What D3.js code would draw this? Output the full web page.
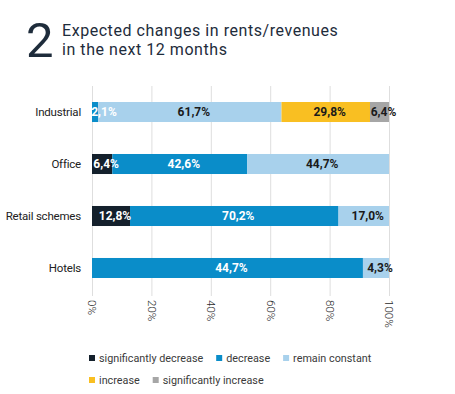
<!DOCTYPE html>
<html>
<head>
<meta charset="utf-8">
<script src="https://cdn.jsdelivr.net/npm/d3@7"></script>
<style>
  body { margin: 0; background: #fff; }
  svg { display: block; font-family: Roboto, "Noto Sans", sans-serif; }
</style>
</head>
<body>
<div id="chart"></div>
<script>
// categories (top to bottom)
const categories = ["Industrial", "Office", "Retail schemes", "Hotels"];

// series values, % of answers (0 = no segment)
const sigDecrease = [0, 6.4, 12.8, 0];
const decrease = [2.1, 42.6, 70.2, 44.7];
const remainConstant = [61.7, 44.7, 17.0, 4.3];
const increase = [29.8, 0, 0, 0];
const sigIncrease = [6.4, 0, 0, 0];

const seriesKeys = ["sigDecrease", "decrease", "remainConstant", "increase", "sigIncrease"];
const seriesNames = ["significantly decrease", "decrease", "remain constant", "increase", "significantly increase"];
const seriesColors = ["#14202c", "#0a8dc9", "#a8d1ec", "#f9bf22", "#a6a6a6"];
const labelColors = ["#fff", "#fff", "#1a1a1a", "#1a1a1a", "#1a1a1a"];

const tickValues = [0, 0.2, 0.4, 0.6, 0.8, 1];
const legendRows = [[0, 1, 2], [3, 4]];

const w = 455, h = 394;

const rows = categories.map((c, i) => ({
  category: c,
  sigDecrease: sigDecrease[i],
  decrease: decrease[i],
  remainConstant: remainConstant[i],
  increase: increase[i],
  sigIncrease: sigIncrease[i]
}));

const svg = d3.select("#chart").append("svg")
  .attr("width", w)
  .attr("height", h);

// title
svg.append("text")
  .attr("x", 26)
  .attr("y", 57)
  .attr("fill", "#1e2c3b")
  .style("font-size", "49px")
  .text("2");

const title = svg.append("text")
  .attr("x", 62)
  .attr("fill", "#1e2c3b")
  .style("font-size", "16px")
  .style("letter-spacing", "0.55px");
title.append("tspan").attr("x", 62).attr("y", 36).text("Expected changes in rents/revenues");
title.append("tspan").attr("x", 62).attr("y", 55).text("in the next 12 months");

const xScale = d3.scaleLinear().domain([0, 1]).range([92, 389]);
const yScale = d3.scaleBand()
  .domain(categories)
  .range([86, 294])
  .paddingInner(0.615)
  .paddingOuter(0.3077);

// grid + rotated tick labels
const xAxis = d3.axisBottom(xScale)
  .tickValues(tickValues)
  .tickSize(-210)
  .tickFormat(d3.format(".0%"));

const gx = svg.append("g")
  .attr("transform", "translate(0," + 296 + ")")
  .call(xAxis);
gx.select(".domain").remove();
gx.selectAll(".tick line").attr("stroke", "#dedede").attr("stroke-width", 1);
gx.selectAll(".tick text")
  .attr("transform", "rotate(90)")
  .attr("x", 4)
  .attr("y", 0)
  .attr("dy", "0.35em")
  .attr("text-anchor", "start")
  .attr("fill", "#2a2a2a")
  .style("font-size", "11.5px")
  .style("font-weight", 300)
  .style("font-family", "Roboto, sans-serif");

// stacked bars (100%)
const stack = d3.stack().keys(seriesKeys).offset(d3.stackOffsetExpand);
const stacked = stack(rows);

const layers = svg.selectAll("g.layer")
  .data(stacked)
  .enter()
  .append("g")
  .attr("class", "layer")
  .attr("fill", (d, i) => seriesColors[i]);

layers.selectAll("rect")
  .data(d => d.filter(p => p.data[d.key] > 0))
  .enter()
  .append("rect")
  .attr("x", d => xScale(d[0]))
  .attr("y", d => yScale(d.data.category))
  .attr("width", d => xScale(d[1]) - xScale(d[0]))
  .attr("height", yScale.bandwidth());

// value labels
const fmt = v => d3.format(".1f")(v).replace(".", ",") + "%";
stacked.forEach((layer, i) => {
  svg.append("g")
    .selectAll("text")
    .data(layer.filter(p => p.data[layer.key] > 0))
    .enter()
    .append("text")
    .attr("x", d => Math.max(xScale((d[0] + d[1]) / 2) + 4, xScale(d[0]) + 12))
    .attr("y", d => yScale(d.data.category) + yScale.bandwidth() / 2)
    .attr("dy", "0.36em")
    .attr("text-anchor", "middle")
    .attr("fill", labelColors[i])
    .style("font-size", "12px")
    .style("font-weight", 700)
    .text(d => fmt(d.data[layer.key]));
});

// category labels
svg.append("g")
  .selectAll("text")
  .data(categories)
  .enter()
  .append("text")
  .attr("x", 81)
  .attr("y", d => yScale(d) + yScale.bandwidth() / 2)
  .attr("dy", "0.36em")
  .attr("text-anchor", "end")
  .attr("fill", "#222")
  .style("font-size", "11.5px")
  .style("letter-spacing", "-0.2px")
  .text(d => d);

// legend
const legend = svg.append("g");
legendRows.forEach((row, r) => {
  let x = 89;
  const y = 358 + r * 22;
  row.forEach(i => {
    legend.append("rect")
      .attr("x", x)
      .attr("y", y - 3)
      .attr("width", 6)
      .attr("height", 6)
      .attr("fill", seriesColors[i]);
    const t = legend.append("text")
      .attr("x", x + 10)
      .attr("y", y)
      .attr("dy", "0.35em")
      .attr("fill", "#3a3a3a")
      .style("font-size", "10.8px")
      .text(seriesNames[i]);
    x = x + 10 + t.node().getComputedTextLength() + 13;
  });
});
</script>
</body>
</html>
